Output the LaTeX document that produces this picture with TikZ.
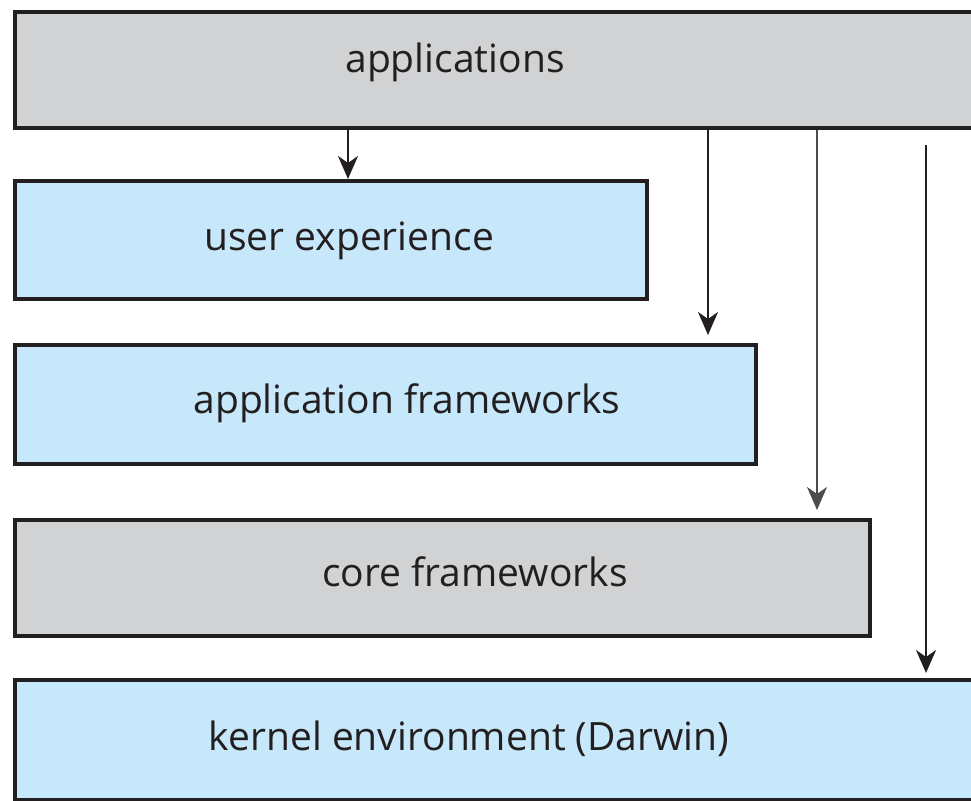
\documentclass[tikz,border=0pt]{standalone}
\usepackage{fontspec}
\setmainfont{Open Sans}
\usepackage{xcolor}
\usepackage{tikz}
\usetikzlibrary{arrows.meta,positioning,calc}

\definecolor{layergray}{HTML}{D1D2D4}
\definecolor{layerblue}{HTML}{C6E8FA}
\definecolor{edgeblack}{HTML}{231F20}

\begin{document}
\begin{tikzpicture}[
    x=1pt, y=-1pt,
    layer/.style={rectangle, draw=edgeblack, line width=4pt, anchor=north west, inner sep=0pt},
    graylayer/.style={layer, fill=layergray},
    bluelayer/.style={layer, fill=layerblue},
    caption/.style={font=\fontsize{39}{45}\selectfont, text=edgeblack, anchor=base, inner sep=0pt},
    arr/.style={-{Stealth[length=23pt, width=20pt, inset=7pt]}, line width=2pt, draw=edgeblack}
]
    \useasboundingbox (0,0) rectangle (971,800);
    \clip (0,0) rectangle (971,800);

    % Layers
    \node[graylayer, minimum width=980pt, minimum height=116pt] (apps) at (13,10) {};
    \node[bluelayer, minimum width=632pt, minimum height=118pt] (ux) at (13,179) {};
    \node[bluelayer, minimum width=741pt, minimum height=119pt] (appfw) at (13,343) {};
    \node[graylayer, minimum width=855pt, minimum height=116pt] (corefw) at (13,518) {};
    \node[bluelayer, minimum width=980pt, minimum height=120pt] (kernel) at (13,678) {};

    % Captions
    \node[caption] (appstext) at (455,72) {applications};
    \node[caption] (uxtext) at (349,250) {user experience};
    \node[caption] (appfwtext) at (407,413) {application frameworks};
    \node[caption] (corefwtext) at (475,586) {core frameworks};
    \node[caption] (kerneltext) at (469,750) {kernel environment (Darwin)};

    % Arrows
    \draw[arr] (apps.south -| 348,0) -- (ux.north -| 348,0);
    \draw[arr] (apps.south -| 708,0) -- ($(appfw.north -| 708,0)+(0,-8)$);
    \draw[arr, line width=1.5pt, draw=black!70] (apps.south -| 817,0) -- ($(corefw.north -| 817,0)+(0,-8)$);
    \draw[arr] ($(apps.south -| 926,0)+(0,15)$) -- ($(kernel.north -| 926,0)+(0,-5)$);
\end{tikzpicture}
\end{document}
